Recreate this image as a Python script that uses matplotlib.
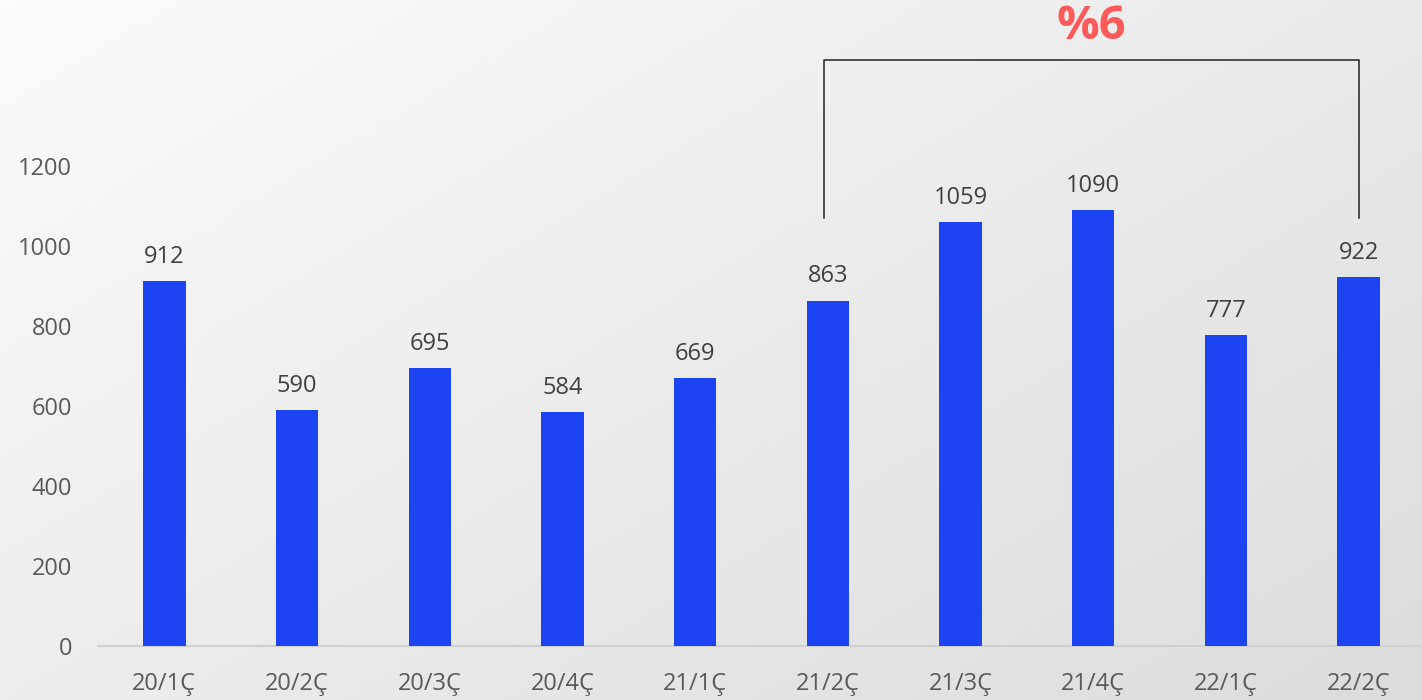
import numpy as np
import matplotlib.pyplot as plt

plt.rcParams['font.family'] = ['Open Sans', 'DejaVu Sans']

quarters = ["20/1Ç", "20/2Ç", "20/3Ç", "20/4Ç", "21/1Ç", "21/2Ç", "21/3Ç", "21/4Ç", "22/1Ç", "22/2Ç"]
values = [912, 590, 695, 584, 669, 863, 1059, 1090, 777, 922]
yticks = [0, 200, 400, 600, 800, 1000, 1200]
growth_label = "%6"
bracket_from, bracket_to = 5, 9

fig = plt.figure(figsize=(14.22, 7.0), dpi=100)

# background gradient, light top-left to grey bottom-right
bg = fig.add_axes([0, 0, 1, 1])
gx, gy = np.meshgrid(np.linspace(0, 1, 300), np.linspace(0, 1, 150))
grad = 0.55 * gx + 0.45 * gy
bg.imshow(grad, cmap=plt.cm.colors.LinearSegmentedColormap.from_list("bg", ["#fbfbfb", "#dcdcdc"]),
          aspect="auto", extent=[0, 1, 0, 1], origin="upper")
bg.set_axis_off()

ax = fig.add_axes([98 / 1422, 54 / 700, 1327 / 1422, 640 / 700])
ax.patch.set_alpha(0)
x = np.arange(len(quarters))
ax.bar(x, values, width=0.32, color="#1c44f2", zorder=3)
for xi, v in zip(x, values):
    ax.annotate(str(v), (xi, v), xytext=(0, 9), textcoords="offset points",
                ha="center", va="bottom", fontsize=17, color="#404040")

ax.set_xlim(-0.5, len(quarters) - 0.5)
ax.set_ylim(0, 1600)
ax.set_yticks(yticks)
ax.set_xticks(x)
ax.set_xticklabels(quarters)
ax.tick_params(axis="y", length=0, pad=18.5, labelsize=17, labelcolor="#595959")
ax.tick_params(axis="x", length=0, pad=19, labelsize=17, labelcolor="#595959")
for s in ["top", "right", "left"]:
    ax.spines[s].set_visible(False)
ax.spines["bottom"].set_color("#d0d0d0")
ax.spines["bottom"].set_linewidth(1.5)

# bracket showing the yearly change
x0, x1 = bracket_from - 0.03, bracket_to
y_low, y_top = 1070, 1465
ax.plot([x0, x0, x1, x1], [y_low, y_top, y_top, y_low], color="#222222", lw=1.1, clip_on=False)
ax.text((x0 + x1) / 2, 1548, growth_label, ha="center", va="center", fontsize=34,
        fontweight="bold", color="#ff5a5a")

fig.savefig("out.png", dpi=100)
